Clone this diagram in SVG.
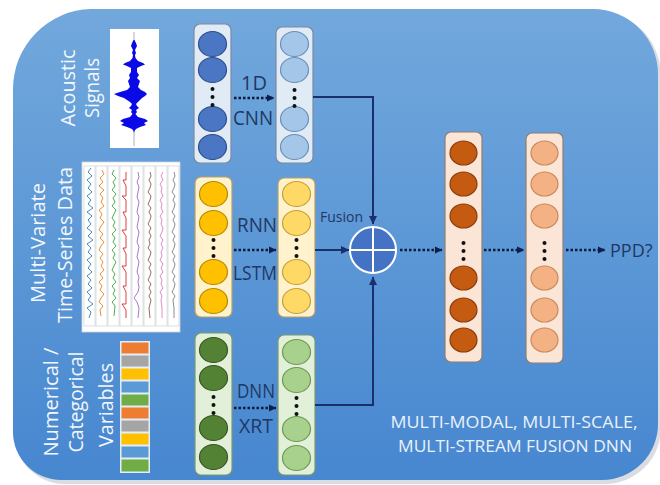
<svg xmlns="http://www.w3.org/2000/svg" width="660" height="485" viewBox="0 0 660 485">
<defs>
<linearGradient id="bg" x1="0" y1="0" x2="0" y2="1">
<stop offset="0" stop-color="#72a8dc"/>
<stop offset="1" stop-color="#4787d0"/>
</linearGradient>
<marker id="ah" markerWidth="8" markerHeight="8" refX="7" refY="4" orient="auto" markerUnits="userSpaceOnUse">
<path d="M0,0.5 L7.5,4 L0,7.5 Z" fill="#0d1f4d"/>
</marker>
<marker id="ah2" markerWidth="9" markerHeight="9" refX="8" refY="4.5" orient="auto" markerUnits="userSpaceOnUse">
<path d="M0,0.5 L8.5,4.5 L0,8.5 Z" fill="#1a2f6e"/>
</marker>
<style>
text{font-family:"Open Sans","Liberation Sans",sans-serif}
.lbl{fill:#1f3864;font-size:20px}
.side{fill:#f3f7fc;font-size:20px;text-anchor:middle}
.bot{fill:#eaf1fa;font-size:17px;text-anchor:middle}
.dl{stroke:#0b1a3f;stroke-width:2.5;stroke-dasharray:2.5 2;fill:none}
.sl{stroke:#1a2f6e;stroke-width:2;fill:none}
.dt{fill:#111}
.bR{fill:#e1ebf6;stroke:#7b8aa1;stroke-width:1.2}
.b1{fill:#4a76c4;stroke:#2d4f8c;stroke-width:1.2}
.b2{fill:#a4c6e8;stroke:#6c8fb6;stroke-width:1.2}
.yR{fill:#fff2cc;stroke:#b3a06a;stroke-width:1.2}
.y1{fill:#ffc000;stroke:#b58a00;stroke-width:1.2}
.y2{fill:#ffd966;stroke:#c6a03a;stroke-width:1.2}
.gR{fill:#e2f0d9;stroke:#7c9870;stroke-width:1.2}
.g1{fill:#548235;stroke:#375623;stroke-width:1.2}
.g2{fill:#a9d18e;stroke:#6d9853;stroke-width:1.2}
.oR{fill:#fbe5d6;stroke:#8e7e74;stroke-width:1.2}
.o1{fill:#c55a11;stroke:#8a3d0b;stroke-width:1.2}
.o2{fill:#f4b183;stroke:#c98b5e;stroke-width:1.2}
.pl{fill:none;stroke-width:0.9}
</style>
</defs>
<rect width="660" height="485" fill="#ffffff"/>
<path d="M 93 11 H 596 A 65 65 0 0 1 661 76 V 428 A 56 56 0 0 1 605 484 H 63 A 50 50 0 0 1 15 434 V 91 A 80 80 0 0 1 93 11 Z" fill="#c9ced6" opacity="0.7"/>
<path id="background" d="M 91 9 H 593 A 65 65 0 0 1 658 74 V 424 A 56 56 0 0 1 602 480 H 61 A 48 48 0 0 1 13 432 V 89 A 80 80 0 0 1 91 9 Z" fill="url(#bg)"/>

<g id="acoustic-input">
<text class="side" transform="translate(75,88) rotate(-90)" textLength="77" lengthAdjust="spacingAndGlyphs">Acoustic</text>
<text class="side" transform="translate(99,88) rotate(-90)" textLength="60" lengthAdjust="spacingAndGlyphs">Signals</text>
<rect x="110" y="29" width="49" height="119" fill="#ffffff"/>
<line x1="134" y1="32" x2="134" y2="146" stroke="#9a9ab0" stroke-width="0.8"/>
<polygon fill="#0a0ae6" points="134.5,40 136,43 137,46 136,48 135,50 136,53 135,55 135.5,58 138,61 143,63 145,64.5 141,66 137,68 137,72 139,75 137,78 140,81 139,84 138,87 141,90 145,92 147,94 145,96 142,98 140,100 138,102 136,104 137,106 139,108 136,110 137,112 135.5,114 138,117 145,119 148,121 144,123 146,125 140,127 136,129 134.5,131 134,133 133.5,131 132,129 127,127 121,125 124,123 120,121 123,119 130,117 132.5,114 131,112 132,110 129,108 131,106 132,104 130,102 127,100 124,98 118,96 114,94 120,92 127,90 130,87 129,84 128,81 130,78 129,75 131,72 131,68 127,66 123,64.5 125,63 130,61 132.5,58 133,55 132,53 133,50 132,48 131,46 132,43 133.5,40"/>
</g>

<g id="timeseries-input">
<text class="side" transform="translate(45,243) rotate(-90)" textLength="120" lengthAdjust="spacingAndGlyphs">Multi-Variate</text>
<text class="side" transform="translate(72,245) rotate(-90)" textLength="156" lengthAdjust="spacingAndGlyphs">Time-Series Data</text>
<rect x="82" y="162" width="98" height="170" fill="#ffffff" stroke="#d0d4da" stroke-width="0.8"/>
<g fill="none" stroke="#c4c8ce" stroke-width="0.6">
<rect x="84" y="166" width="11" height="160"/><rect x="96" y="166" width="11" height="160"/><rect x="108" y="166" width="11" height="160"/><rect x="120" y="166" width="11" height="160"/><rect x="132" y="166" width="11" height="160"/><rect x="144" y="166" width="11" height="160"/><rect x="156" y="166" width="11" height="160"/><rect x="168" y="166" width="11" height="160"/>
</g>
<polyline class="pl" stroke="#2c7fc4" points="91,168 88,172 92,176 87,180 91,184 88,188 92,192 87,196 91,200 88,204 93,208 87,212 92,216 88,220 91,224 87,228 92,232 88,236 93,240 87,244 91,248 88,252 92,256 87,260 91,264 88,268 92,272 87,276 91,280 88,284 92,288 87,292 91,296 88,300 93,304 87,308 91,312 89,318"/>
<polyline class="pl" stroke="#f07f1a" points="102,170 104,174 100,178 103,182 99,186 104,190 100,194 103,198 101,202 104,206 99,210 102,214 100,218 104,222 101,226 99,230 103,234 100,238 104,242 101,246 99,250 103,254 100,258 103,262 101,266 104,270 100,274 103,278 99,282 102,286 100,290 104,294 101,298 99,302 103,306 100,310 101,316"/>
<polyline class="pl" stroke="#3aa33a" points="114,170 112,174 116,178 113,182 115,186 112,190 116,194 113,198 115,202 112,206 116,210 114,214 112,218 115,222 113,226 116,230 112,234 115,238 113,242 116,246 112,250 115,254 113,258 116,262 114,266 112,270 115,274 113,278 116,282 112,286 115,290 113,294 116,298 112,302 115,306 114,316"/>
<polyline class="pl" stroke="#d62a2a" points="126,172 126,180 123,180 126,186 126,196 122,196 126,200 126,212 123,212 126,218 126,230 122,230 126,236 126,248 123,248 126,254 126,266 122,266 126,272 126,286 123,286 126,292 126,304 122,304 126,310 126,318"/>
<polyline class="pl" stroke="#9b6bc6" points="138,172 139,177 137,182 139,187 138,192 137,197 139,202 138,207 137,212 139,217 138,222 137,227 139,232 138,237 137,242 139,247 138,252 137,257 139,262 138,267 137,272 139,277 138,282 139,287 138,292 134,298 137,302 139,308 138,318"/>
<polyline class="pl" stroke="#8e5a4d" points="150,172 151,176 149,180 151,184 150,188 148,192 151,196 150,200 148,204 151,208 149,212 151,216 150,220 148,224 151,228 149,232 151,236 149,240 150,244 148,248 151,252 150,256 148,260 151,264 149,268 151,272 150,276 148,280 151,284 149,288 151,292 149,296 151,300 149,308 150,318"/>
<polyline class="pl" stroke="#e27ac4" points="163,172 161,176 163,180 160,184 162,188 161,192 163,196 160,200 162,204 161,208 163,212 160,216 162,220 161,224 163,228 162,232 160,236 163,240 161,244 163,248 161,252 162,256 160,260 163,264 161,268 163,272 160,276 162,280 161,284 163,288 160,292 162,296 161,300 162,308 162,318"/>
<polyline class="pl" stroke="#7f7f7f" points="174,172 175,176 173,180 175,184 174,188 172,192 175,196 173,200 175,204 174,208 172,212 175,216 173,220 175,224 174,228 172,232 175,236 173,240 175,244 174,248 172,252 175,256 173,260 175,264 174,268 172,272 175,276 173,280 175,284 174,288 172,292 175,296 173,300 174,308 174,318"/>
</g>

<g id="tabular-input">
<text class="side" transform="translate(58,402) rotate(-90)" textLength="109" lengthAdjust="spacingAndGlyphs">Numerical /</text>
<text class="side" transform="translate(83,402) rotate(-90)" textLength="101" lengthAdjust="spacingAndGlyphs">Categorical</text>
<text class="side" transform="translate(113,405) rotate(-90)" textLength="84" lengthAdjust="spacingAndGlyphs">Variables</text>
<rect x="120" y="341" width="30" height="132" fill="#ffffff" opacity="0.85"/>
<g stroke="none">
<rect x="121.5" y="342.5" width="27" height="11" fill="#ed7d31"/>
<rect x="121.5" y="355.5" width="27" height="11" fill="#a5a5a5"/>
<rect x="121.5" y="368.5" width="27" height="11" fill="#ffc000"/>
<rect x="121.5" y="381.5" width="27" height="11" fill="#5b9bd5"/>
<rect x="121.5" y="394.5" width="27" height="11" fill="#70ad47"/>
<rect x="121.5" y="407.5" width="27" height="11" fill="#ed7d31"/>
<rect x="121.5" y="420.5" width="27" height="11" fill="#a5a5a5"/>
<rect x="121.5" y="433.5" width="27" height="11" fill="#ffc000"/>
<rect x="121.5" y="446.5" width="27" height="11" fill="#5b9bd5"/>
<rect x="121.5" y="459.5" width="27" height="12" fill="#70ad47"/>
</g>
</g>

<g id="cnn-layer1">
<rect class="bR" x="194" y="24" width="37" height="139" rx="6"/>
<ellipse class="b1" cx="212.5" cy="44" rx="14" ry="12.5"/>
<ellipse class="b1" cx="212.5" cy="70" rx="14" ry="12.5"/>
<ellipse class="b1" cx="212.5" cy="119" rx="14" ry="12.5"/>
<ellipse class="b1" cx="212.5" cy="147" rx="14" ry="12.5"/>
<circle class="dt" cx="212.5" cy="89" r="2"/><circle class="dt" cx="212.5" cy="97" r="2"/><circle class="dt" cx="212.5" cy="105" r="2"/>
</g>
<g id="cnn-layer2">
<rect class="bR" x="276" y="27" width="37" height="136" rx="6"/>
<ellipse class="b2" cx="294.5" cy="44" rx="14" ry="12.5"/>
<ellipse class="b2" cx="294.5" cy="70" rx="14" ry="12.5"/>
<ellipse class="b2" cx="294.5" cy="119" rx="14" ry="12.5"/>
<ellipse class="b2" cx="294.5" cy="147" rx="14" ry="12.5"/>
<circle class="dt" cx="294.5" cy="90" r="2"/><circle class="dt" cx="294.5" cy="98" r="2"/><circle class="dt" cx="294.5" cy="106" r="2"/>
</g>
<g id="rnn-layer1">
<rect class="yR" x="195" y="177" width="37" height="140" rx="6"/>
<ellipse class="y1" cx="213.5" cy="194" rx="14" ry="12.5"/>
<ellipse class="y1" cx="213.5" cy="223" rx="14" ry="12.5"/>
<ellipse class="y1" cx="213.5" cy="272" rx="14" ry="12.5"/>
<ellipse class="y1" cx="213.5" cy="301" rx="14" ry="12.5"/>
<circle class="dt" cx="213.5" cy="240" r="2"/><circle class="dt" cx="213.5" cy="248" r="2"/><circle class="dt" cx="213.5" cy="256" r="2"/>
</g>
<g id="rnn-layer2">
<rect class="yR" x="278" y="178" width="37" height="139" rx="6"/>
<ellipse class="y2" cx="296.5" cy="194" rx="14" ry="12.5"/>
<ellipse class="y2" cx="296.5" cy="223" rx="14" ry="12.5"/>
<ellipse class="y2" cx="296.5" cy="272" rx="14" ry="12.5"/>
<ellipse class="y2" cx="296.5" cy="301" rx="14" ry="12.5"/>
<circle class="dt" cx="296.5" cy="240" r="2"/><circle class="dt" cx="296.5" cy="248" r="2"/><circle class="dt" cx="296.5" cy="256" r="2"/>
</g>
<g id="dnn-layer1">
<rect class="gR" x="195" y="333" width="37" height="142" rx="6"/>
<ellipse class="g1" cx="213.5" cy="350" rx="14" ry="12.5"/>
<ellipse class="g1" cx="213.5" cy="378" rx="14" ry="12.5"/>
<ellipse class="g1" cx="213.5" cy="428" rx="14" ry="12.5"/>
<ellipse class="g1" cx="213.5" cy="457" rx="14" ry="12.5"/>
<circle class="dt" cx="213.5" cy="397" r="2"/><circle class="dt" cx="213.5" cy="405" r="2"/><circle class="dt" cx="213.5" cy="413" r="2"/>
</g>
<g id="dnn-layer2">
<rect class="gR" x="278" y="335" width="37" height="140" rx="6"/>
<ellipse class="g2" cx="296.5" cy="352" rx="14" ry="12.5"/>
<ellipse class="g2" cx="296.5" cy="380" rx="14" ry="12.5"/>
<ellipse class="g2" cx="296.5" cy="429" rx="14" ry="12.5"/>
<ellipse class="g2" cx="296.5" cy="458" rx="14" ry="12.5"/>
<circle class="dt" cx="296.5" cy="398" r="2"/><circle class="dt" cx="296.5" cy="406" r="2"/><circle class="dt" cx="296.5" cy="414" r="2"/>
</g>
<g id="fusion">
<circle cx="373" cy="250" r="23" fill="#4472c4" stroke="#ffffff" stroke-width="2"/>
<line x1="350" y1="250" x2="396" y2="250" stroke="#ffffff" stroke-width="2"/>
<line x1="373" y1="227" x2="373" y2="273" stroke="#ffffff" stroke-width="2"/>
<text class="lbl" x="320" y="222" style="font-size:14px">Fusion</text>
</g>
<g id="fc-layer1">
<rect class="oR" x="445" y="132" width="37" height="230" rx="6"/>
<ellipse class="o1" cx="463.5" cy="153" rx="13.5" ry="12"/>
<ellipse class="o1" cx="463.5" cy="184" rx="13.5" ry="12"/>
<ellipse class="o1" cx="463.5" cy="216" rx="13.5" ry="12"/>
<ellipse class="o1" cx="463.5" cy="278" rx="13.5" ry="12"/>
<ellipse class="o1" cx="463.5" cy="310" rx="13.5" ry="12"/>
<ellipse class="o1" cx="463.5" cy="340" rx="13.5" ry="12"/>
<circle class="dt" cx="463.5" cy="243" r="2"/><circle class="dt" cx="463.5" cy="251" r="2"/><circle class="dt" cx="463.5" cy="259" r="2"/>
</g>
<g id="fc-layer2">
<rect class="oR" x="526" y="133" width="37" height="230" rx="6"/>
<ellipse class="o2" cx="544.5" cy="153" rx="13.5" ry="12"/>
<ellipse class="o2" cx="544.5" cy="184" rx="13.5" ry="12"/>
<ellipse class="o2" cx="544.5" cy="216" rx="13.5" ry="12"/>
<ellipse class="o2" cx="544.5" cy="278" rx="13.5" ry="12"/>
<ellipse class="o2" cx="544.5" cy="310" rx="13.5" ry="12"/>
<ellipse class="o2" cx="544.5" cy="340" rx="13.5" ry="12"/>
<circle class="dt" cx="544.5" cy="243" r="2"/><circle class="dt" cx="544.5" cy="251" r="2"/><circle class="dt" cx="544.5" cy="259" r="2"/>
</g>
<g id="output">
<text class="lbl" x="610" y="257" style="font-size:18px">PPD?</text>
</g>
<g id="title">
<text class="bot" x="514" y="428" textLength="247" lengthAdjust="spacingAndGlyphs">MULTI-MODAL, MULTI-SCALE,</text>
<text class="bot" x="515" y="452" textLength="234" lengthAdjust="spacingAndGlyphs">MULTI-STREAM FUSION DNN</text>
</g>
<g id="connectors">
<path class="dl" d="M234 98 H274" marker-end="url(#ah)"/>
<path class="dl" d="M234 250 H276" marker-end="url(#ah)"/>
<path class="dl" d="M234 408 H276" marker-end="url(#ah)"/>
<path class="dl" d="M400 250 H442" marker-end="url(#ah)"/>
<path class="dl" d="M484 250 H524" marker-end="url(#ah)"/>
<path class="dl" d="M566 250 H605" marker-end="url(#ah)"/>
<path class="sl" d="M313 97 H373 V224" marker-end="url(#ah2)"/>
<path class="sl" d="M315 250 H349" marker-end="url(#ah2)"/>
<path class="sl" d="M315 405 H373 V277" marker-end="url(#ah2)"/>
</g>
<g id="conn-labels">
<text class="lbl" x="254" y="90" text-anchor="middle">1D</text>
<text class="lbl" x="253" y="125" text-anchor="middle" textLength="40" lengthAdjust="spacingAndGlyphs">CNN</text>
<text class="lbl" x="257" y="232" text-anchor="middle" textLength="40" lengthAdjust="spacingAndGlyphs">RNN</text>
<text class="lbl" x="255" y="280" text-anchor="middle" textLength="44" lengthAdjust="spacingAndGlyphs">LSTM</text>
<text class="lbl" x="256" y="398" text-anchor="middle" textLength="38" lengthAdjust="spacingAndGlyphs">DNN</text>
<text class="lbl" x="256" y="433" text-anchor="middle" textLength="34" lengthAdjust="spacingAndGlyphs">XRT</text>
</g>
</svg>
